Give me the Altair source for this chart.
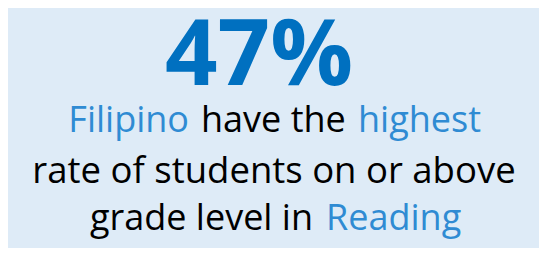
import altair as alt
import pandas as pd

# Text content
headline = ["47%"]
line1_parts = ["Filipino", "have the", "highest"]
line2_parts = ["rate of students on or above"]
line3_parts = ["grade level in", "Reading"]

BG = "#DEEBF7"
DARK_BLUE = "#0070C0"
LIGHT_BLUE = "#2F8BD3"
BLACK = "#000000"
FONT = "Open Sans"

base = alt.Chart(pd.DataFrame({"k": [0]}))


def txt(s, x, y, size, color, align="center", weight="normal"):
    return base.mark_text(
        text=s, font=FONT, fontSize=size, fontWeight=weight, color=color,
        align=align, baseline="alphabetic"
    ).encode(x=alt.value(x), y=alt.value(y))


layers = [
    txt(headline[0], 251, 77, 92, DARK_BLUE, weight="bold"),
    txt(line1_parts[0], 181, 124, 36, LIGHT_BLUE, align="right"),
    txt(line1_parts[1], 193, 124, 36, BLACK, align="left"),
    txt(line1_parts[2], 350, 124, 36, LIGHT_BLUE, align="left"),
    txt(line2_parts[0], 266, 175, 36.5, BLACK),
    txt(line3_parts[0], 82, 222, 36, BLACK, align="left"),
    txt(line3_parts[1], 318, 222, 36, LIGHT_BLUE, align="left"),
]

chart = alt.layer(*layers).properties(
    width=531, height=240, padding=0, background=BG
).configure_view(stroke=None)

chart.save("out.html", embed_options={"renderer": "svg", "actions": False})
